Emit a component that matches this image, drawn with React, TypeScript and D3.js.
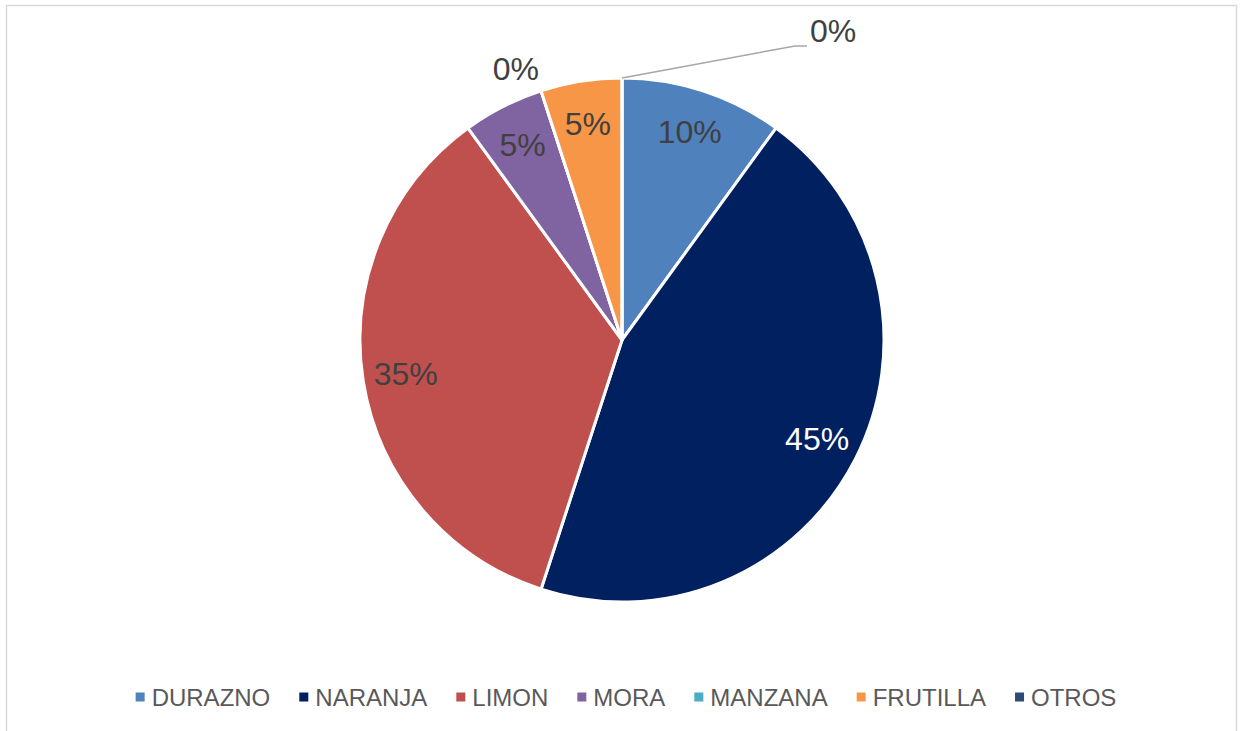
import React from "react";
import * as d3 from "d3";

const categories = ["DURAZNO", "NARANJA", "LIMON", "MORA", "MANZANA", "FRUTILLA", "OTROS"];
const values = [2, 9, 7, 1, 0, 1, 0];
const colors = ["#4F81BD", "#002060", "#C0504D", "#8064A2", "#4BACC6", "#F79646", "#2C4D75"];

const W = 1242;
const H = 731;
const FONT = "'Liberation Sans', Arial, Helvetica, sans-serif";

function measure(text: string, size: number): number {
  const c = document.createElement("canvas");
  const ctx = c.getContext("2d");
  if (!ctx) return text.length * size * 0.6;
  ctx.font = `${size}px 'Liberation Sans', Arial, sans-serif`;
  return ctx.measureText(text).width;
}

export default function App() {
  const cx = 622;
  const cy = 340;
  const R = 262;
  const total = d3.sum(values);
  const pie = d3.pie<number>().sort(null).value((d) => d)(values);
  const arc = d3.arc<d3.PieArcDatum<number>>().innerRadius(0).outerRadius(R);
  const labelArc = d3.arc<d3.PieArcDatum<number>>().innerRadius(219).outerRadius(219);
  const pct = (v: number) => `${Math.round((v / total) * 100)}%`;
  const labelSize = 32;

  // legend layout
  const legendSize = 24;
  const marker = 9;
  const gapText = 7;
  const gapItem = 29;
  const widths = categories.map((c) => measure(c, legendSize));
  const itemW = widths.map((w) => marker + gapText + w);
  const totalW = d3.sum(itemW) + gapItem * (categories.length - 1);
  let lx = 626 - totalW / 2;
  const legendX: number[] = [];
  itemW.forEach((w) => {
    legendX.push(lx);
    lx += w + gapItem;
  });
  const legendY = 697;

  return (
    <svg
      width={W}
      height={H}
      style={{ position: "absolute", left: 0, top: 0, background: "#fff" }}
      fontFamily={FONT}
    >
      <rect x={6.5} y={5.5} width={1230} height={740} fill="#fff" stroke="#d9d9d9" strokeWidth={1.5} />
      <g transform={`translate(${cx},${cy})`}>
        {pie.map((p, i) => (
          <path key={i} d={arc(p) || ""} fill={colors[i]} stroke="#fff" strokeWidth={3} strokeLinejoin="round" />
        ))}
        {pie.map((p, i) => {
          if (p.value === 0) return null;
          const [x, y] = labelArc.centroid(p);
          return (
            <text
              key={"l" + i}
              x={x}
              y={y}
              textAnchor="middle"
              dominantBaseline="central"
              fontSize={labelSize}
              fill={i === 1 ? "#ffffff" : "#404040"}
            >
              {pct(p.value)}
            </text>
          );
        })}
        {pie.map((p, i) => {
          if (p.value !== 0) return null;
          const a = p.startAngle;
          if (i === categories.length - 1) {
            const x0 = Math.sin(a) * R;
            const y0 = -Math.cos(a) * R;
            const ex = x0 + 173;
            const ey = y0 - 32;
            return (
              <g key={"z" + i}>
                <polyline
                  points={`${x0},${y0} ${ex},${ey} ${ex + 12},${ey}`}
                  fill="none"
                  stroke="#a6a6a6"
                  strokeWidth={1.5}
                />
                <text x={ex + 15} y={ey - 4} textAnchor="start" fontSize={labelSize} fill="#404040">
                  {pct(p.value)}
                </text>
              </g>
            );
          }
          const rr = R + 10;
          const x = Math.sin(a) * rr;
          const y = -Math.cos(a) * rr;
          return (
            <text key={"z" + i} x={x + 1} y={y - 1} textAnchor="end" fontSize={labelSize} fill="#404040">
              {pct(p.value)}
            </text>
          );
        })}
      </g>
      <g>
        {categories.map((c, i) => (
          <g key={c}>
            <rect x={legendX[i]} y={legendY - marker / 2} width={marker} height={marker} fill={colors[i]} />
            <text
              x={legendX[i] + marker + gapText}
              y={legendY}
              dominantBaseline="central"
              fontSize={legendSize}
              fill="#595959"
            >
              {c}
            </text>
          </g>
        ))}
      </g>
    </svg>
  );
}
